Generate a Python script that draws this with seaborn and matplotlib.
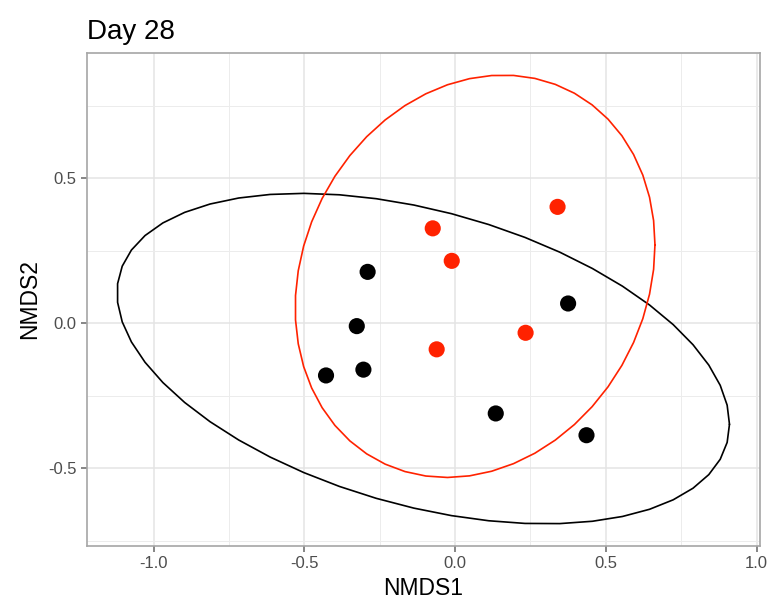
import numpy as np
import pandas as pd
import matplotlib
matplotlib.use('Agg')
import matplotlib.pyplot as plt
import seaborn as sns

# NMDS scores
black_x = [-0.290, -0.326, -0.428, -0.304, 0.135, 0.436, 0.375]
black_y = [0.177, -0.010, -0.180, -0.160, -0.311, -0.386, 0.068]
red_x = [-0.074, -0.011, -0.061, 0.234, 0.340]
red_y = [0.327, 0.215, -0.090, -0.033, 0.401]

group_names = ['A', 'B']
group_colors = {'A': 'black', 'B': '#ff2200'}
x_ticks = [-1.0, -0.5, 0.0, 0.5, 1.0]
y_ticks = [-0.5, 0.0, 0.5]


def cov_trob(xy, nu=5, maxit=25, tol=0.01):
    # robust t covariance, same steps as MASS::cov.trob
    n, p = xy.shape
    wt = np.ones(n)
    loc = xy.mean(axis=0)
    w = np.sqrt(wt)
    for _ in range(maxit):
        w0 = w
        X = xy - loc
        _, d, vt = np.linalg.svd(np.sqrt(w / w.sum())[:, None] * X, full_matrices=False)
        wX = X @ vt.T / d
        Q = (wX ** 2).sum(axis=1)
        w = wt * (nu + p) / (nu + Q)
        loc = (w[:, None] * xy).sum(axis=0) / w.sum()
        if np.all(np.abs(w - w0) < tol):
            break
    sX = np.sqrt(w)[:, None] * X
    return loc, sX.T @ sX / wt.sum()


def ellipse_points(xs, ys, level=0.95, segments=51):
    xy = np.column_stack([xs, ys])
    center, shape = cov_trob(xy)
    dfd = len(xs) - 1
    # F(2, dfd) quantile has a closed form
    qf = dfd / 2 * ((1 - level) ** (-2 / dfd) - 1)
    radius = np.sqrt(2 * qf)
    ang = np.linspace(0, 2 * np.pi, segments + 1)
    circ = np.column_stack([np.cos(ang), np.sin(ang)])
    L = np.linalg.cholesky(shape)
    return center + radius * (circ @ L.T)


df = pd.DataFrame({
    'NMDS1': black_x + red_x,
    'NMDS2': black_y + red_y,
    'group': ['A'] * len(black_x) + ['B'] * len(red_x),
})

sns.set_theme(style='white')
plt.rcParams['font.family'] = ['Liberation Sans', 'DejaVu Sans']
plt.rcParams['axes.unicode_minus'] = False

fig = plt.figure(figsize=(7.74, 6.06), dpi=100)
ax = fig.add_axes([0.1124, 0.099, 0.8696, 0.8135])

ells = {}
for g, xs, ys in [('A', black_x, black_y), ('B', red_x, red_y)]:
    ells[g] = ellipse_points(xs, ys)
    ax.plot(ells[g][:, 0], ells[g][:, 1], color=group_colors[g], lw=1.2, zorder=3)

sns.scatterplot(data=df, x='NMDS1', y='NMDS2', hue='group', hue_order=group_names,
                palette=group_colors, s=135, edgecolor='none', legend=False, ax=ax, zorder=4)

# ggplot style 5% expansion around everything drawn
allx = np.concatenate([df['NMDS1'], ells['A'][:, 0], ells['B'][:, 0]])
ally = np.concatenate([df['NMDS2'], ells['A'][:, 1], ells['B'][:, 1]])
rx = allx.max() - allx.min()
ry = ally.max() - ally.min()
ax.set_xlim(allx.min() - 0.05 * rx, allx.max() + 0.05 * rx)
ax.set_ylim(ally.min() - 0.05 * ry, ally.max() + 0.05 * ry)

ax.set_xticks(x_ticks)
ax.set_yticks(y_ticks)
ax.set_xticks([-0.75, -0.25, 0.25, 0.75], minor=True)
ax.set_yticks([-0.75, -0.25, 0.25, 0.75], minor=True)
ax.grid(True, which='major', color='#e4e4e4', lw=1.1)
ax.grid(True, which='minor', color='#ececec', lw=0.7)
ax.set_axisbelow(True)
for s in ax.spines.values():
    s.set_color('#a6a6a6')
    s.set_linewidth(1.2)
ax.tick_params(which='major', length=4, width=1.1, color='#666666',
               labelsize=12, labelcolor='#4d4d4d', bottom=True, left=True)
ax.tick_params(which='minor', length=0)

ax.set_xlabel('NMDS1', fontsize=16.5, color='black', labelpad=4)
ax.set_ylabel('NMDS2', fontsize=16.5, color='black', labelpad=5)
ax.set_title('Day 28', fontsize=20, loc='left', pad=10, color='black')

fig.savefig('out.png', dpi=100)
